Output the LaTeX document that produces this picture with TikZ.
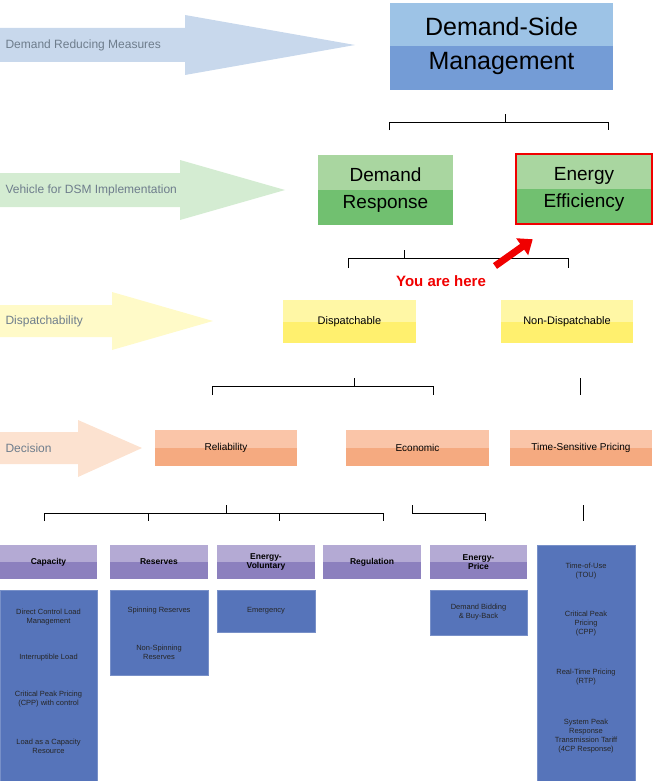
\documentclass[tikz,border=0pt]{standalone}
\usepackage{fontspec}
\setmainfont{Liberation Sans}
\usetikzlibrary{positioning,calc,arrows.meta}
\definecolor{BlueLight}{RGB}{157,195,230}
\definecolor{BlueDark}{RGB}{116,156,214}
\definecolor{BlueArrow}{RGB}{200,216,236}
\definecolor{GreenLight}{RGB}{169,214,160}
\definecolor{GreenDark}{RGB}{113,192,112}
\definecolor{GreenArrow}{RGB}{212,236,210}
\definecolor{YellowLight}{RGB}{255,247,165}
\definecolor{YellowDark}{RGB}{255,240,110}
\definecolor{YellowArrow}{RGB}{255,250,200}
\definecolor{PeachLight}{RGB}{250,197,168}
\definecolor{PeachDark}{RGB}{245,170,128}
\definecolor{PeachArrow}{RGB}{252,226,208}
\definecolor{PurpleLight}{RGB}{180,170,212}
\definecolor{PurpleDark}{RGB}{140,128,190}
\definecolor{LeafBlue}{RGB}{86,116,186}
\definecolor{ArrowText}{RGB}{110,125,140}
\definecolor{MarkRed}{RGB}{240,0,0}

\begin{document}
\begin{tikzpicture}[x=1pt, y=-1pt,
    twotone/.style n args={2}{draw=none, fill=#2, inner sep=1pt, align=center,
        path picture={\fill[#1] (path picture bounding box.north west)
            rectangle (path picture bounding box.east);}},
    head/.style={font=\bfseries\fontsize{8.5}{9.5}\selectfont, twotone={PurpleLight}{PurpleDark}},
    leaf/.style={fill=LeafBlue, draw=LeafBlue!80!white, align=center, anchor=north west,
        font=\fontsize{7.5}{9}\selectfont, inner sep=0pt, text=black!85},
    item/.style={align=center, font=\fontsize{7.5}{9}\selectfont, text=black!85},
    level/.style={font=\fontsize{12}{14}\selectfont, text=ArrowText, anchor=west},
    bracket/.style={draw=black, line width=0.8pt}]

    \useasboundingbox (0,0) rectangle (654,781);

    % level arrows on the left
    \fill[BlueArrow] (0,28) -- (185,28) -- (185,15) -- (355,45) -- (185,75) -- (185,62) -- (0,62) -- cycle;
    \fill[GreenArrow] (0,173) -- (180,173) -- (180,160) -- (285,190) -- (180,220) -- (180,207) -- (0,207) -- cycle;
    \fill[YellowArrow] (0,305) -- (112,305) -- (112,292) -- (213,321) -- (112,350) -- (112,337) -- (0,337) -- cycle;
    \fill[PeachArrow] (0,432) -- (78,432) -- (78,420) -- (142,448) -- (78,477) -- (78,464) -- (0,464) -- cycle;
    \node[level] (LvlMeasures) at (2,45) {Demand Reducing Measures};
    \node[level] (LvlVehicle) at (2,190) {Vehicle for DSM Implementation};
    \node[level] (LvlDispatch) at (2,321) {Dispatchability};
    \node[level] (LvlDecision) at (2,448) {Decision};

    % main boxes
    \node[twotone={BlueLight}{BlueDark}, minimum width=223pt, minimum height=87pt,
        font=\fontsize{25}{34}\selectfont] (DSM) at (501.5,46.5) {Demand-Side\\Management};
    \node[twotone={GreenLight}{GreenDark}, minimum width=135pt, minimum height=70pt,
        font=\fontsize{19}{27}\selectfont] (DR) at (385.5,190) {Demand\\Response};
    \node[twotone={GreenLight}{GreenDark}, minimum width=136pt, minimum height=70pt,
        draw=MarkRed, line width=2.5pt,
        font=\fontsize{19}{27}\selectfont] (EE) at (584,189) {Energy\\Efficiency};

    \node[twotone={YellowLight}{YellowDark}, minimum width=133pt, minimum height=43pt,
        font=\fontsize{11}{13}\selectfont] (Disp) at (349.5,321.5) {Dispatchable};
    \node[twotone={YellowLight}{YellowDark}, minimum width=132pt, minimum height=43pt,
        font=\fontsize{11}{13}\selectfont] (NonDisp) at (567,321.5) {Non-Dispatchable};

    \node[twotone={PeachLight}{PeachDark}, minimum width=142pt, minimum height=36pt,
        font=\fontsize{10}{12}\selectfont] (Reli) at (226,448) {Reliability};
    \node[twotone={PeachLight}{PeachDark}, minimum width=143pt, minimum height=36pt,
        font=\fontsize{10}{12}\selectfont] (Econ) at (417.5,448) {Economic};
    \node[twotone={PeachLight}{PeachDark}, minimum width=142pt, minimum height=36pt,
        font=\fontsize{10}{12}\selectfont] (TSP) at (581,448) {Time-Sensitive Pricing};

    % program types
    \node[head, minimum width=97pt, minimum height=34pt] (Cap) at (48.5,562) {Capacity};
    \node[head, minimum width=98pt, minimum height=34pt] (Res) at (159,562) {Reserves};
    \node[head, minimum width=98pt, minimum height=34pt] (EnVol) at (266,562) {Energy-\\Voluntary};
    \node[head, minimum width=98pt, minimum height=34pt] (Regu) at (372,562) {Regulation};
    \node[head, minimum width=97pt, minimum height=34pt] (EnPri) at (478.5,562) {Energy-\\Price};

    \node[leaf, minimum width=97pt, minimum height=191pt] (CapList) at (0,590) {};
    \node[item] (CapA) at (48.5,617) {Direct Control Load\\Management};
    \node[item] (CapB) at (48.5,658) {Interruptible Load};
    \node[item] (CapC) at (48.5,699) {Critical Peak Pricing\\(CPP) with control};
    \node[item] (CapD) at (48.5,746) {Load as a Capacity\\Resource};

    \node[leaf, minimum width=98pt, minimum height=85pt] (ResList) at (110,590) {};
    \node[item] (ResA) at (159,611) {Spinning Reserves};
    \node[item] (ResB) at (159,652) {Non-Spinning\\Reserves};

    \node[leaf, minimum width=98pt, minimum height=42pt] (EnVolList) at (217,590) {};
    \node[item] (EnVolA) at (266,611) {Emergency};

    \node[leaf, minimum width=97pt, minimum height=45pt] (EnPriList) at (430,590) {};
    \node[item] (EnPriA) at (478.5,612) {Demand Bidding\\\& Buy-Back};

    \node[leaf, minimum width=98pt, minimum height=236pt] (TSPList) at (537,545) {};
    \node[item] (TSPA) at (586,571) {Time-of-Use\\(TOU)};
    \node[item] (TSPB) at (586,624) {Critical Peak\\Pricing\\(CPP)};
    \node[item] (TSPC) at (586,677) {Real-Time Pricing\\(RTP)};
    \node[item] (TSPD) at (586,736) {System Peak\\Response\\Transmission Tariff\\(4CP Response)};

    % brackets
    \draw[bracket] (389,130) -- (389,122) -- (608,122) -- (608,130) (505,122) -- (505,114);
    \draw[bracket] (348,268) -- (348,258) -- (568,258) -- (568,268) (404,258) -- (404,250);
    \draw[bracket] (212,395) -- (212,386) -- (433,386) -- (433,395) (354,386) -- (354,378);
    \draw[bracket] (580,378) -- (580,395);
    \draw[bracket] (44,521) -- (44,513) -- (383,513) -- (383,521)
        (148,513) -- (148,521) (279,513) -- (279,521) (226,513) -- (226,505);
    \draw[bracket] (412,505) -- (412,513) -- (485,513) -- (485,521);
    \draw[bracket] (583,505) -- (583,521);

    % marker
    \node[text=MarkRed, font=\bfseries\fontsize{15}{18}\selectfont] (Here) at (441,281) {You are here};
    \coordinate (HereTail) at (495,266);
    \draw[MarkRed, line width=7pt, -{Triangle[length=13pt, width=20pt]}] (HereTail) -- ($(EE.south west)+(18,14)$);

\end{tikzpicture}
\end{document}
